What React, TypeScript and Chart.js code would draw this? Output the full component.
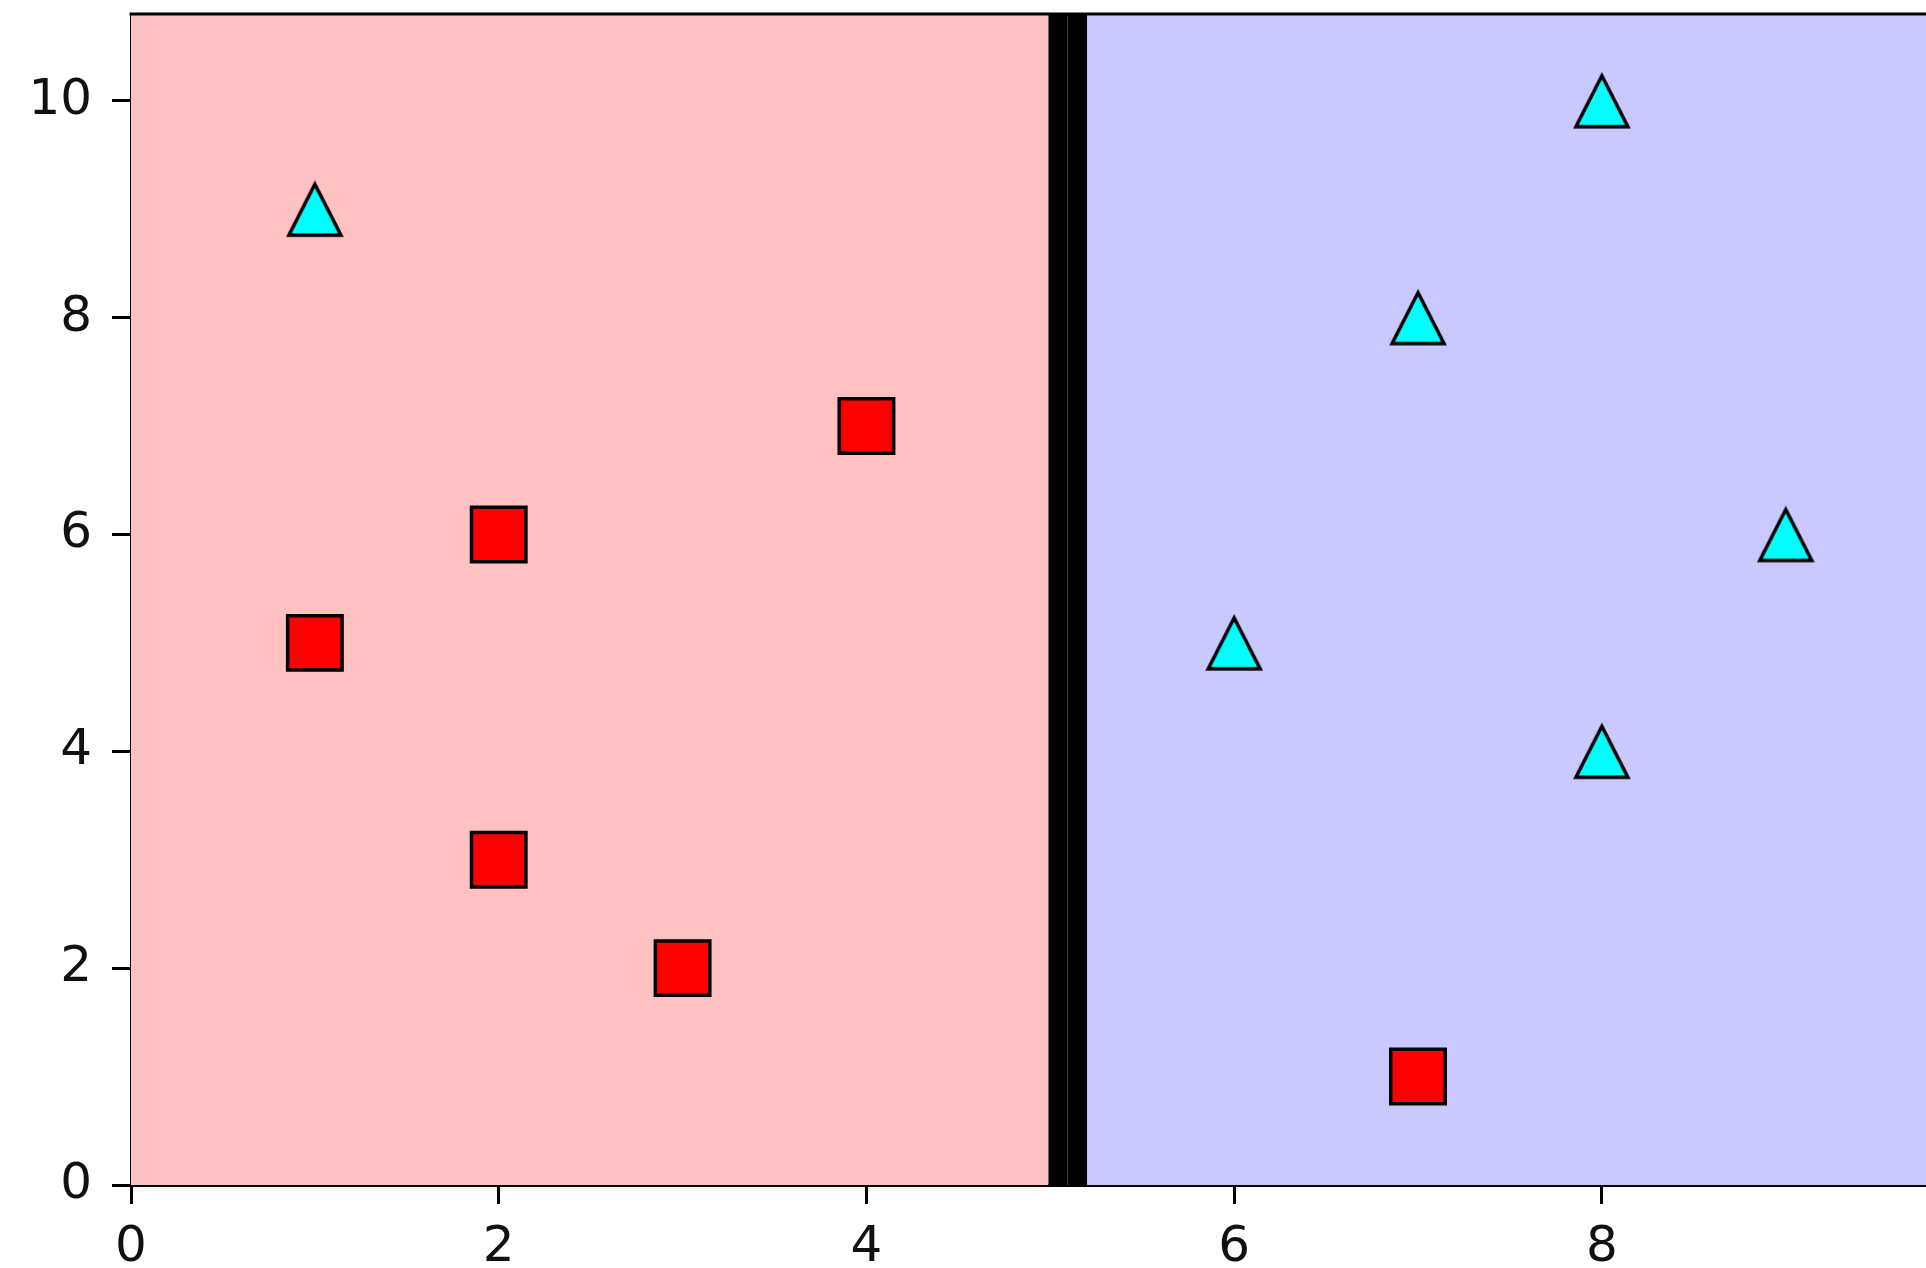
import React, { useEffect, useRef } from "react";
import { Chart, registerables } from "chart.js";

Chart.register(...registerables);

const squareX = [1, 2, 2, 3, 4, 7];
const squareY = [5, 6, 3, 2, 7, 1];
const triangleX = [1, 8, 7, 9, 6, 8];
const triangleY = [9, 10, 8, 6, 5, 4];

const xRange = [0, 9.763];
const yRange = [0, 10.8];
const tickStep = 2;

const redSpan = [0, 4.99];
const blackSpan = [4.99, 5.2];
const blueSpan = [5.2, 9.763];

function makeTriangle(): HTMLCanvasElement {
  const S = 58;
  const c = document.createElement("canvas");
  c.width = S;
  c.height = S;
  const ctx = c.getContext("2d")!;
  ctx.beginPath();
  ctx.moveTo(S / 2, 4);
  ctx.lineTo(S - 3, S - 3);
  ctx.lineTo(3, S - 3);
  ctx.closePath();
  ctx.fillStyle = "#00ffff";
  ctx.fill();
  ctx.lineWidth = 3.5;
  ctx.lineJoin = "miter";
  ctx.strokeStyle = "#000";
  ctx.stroke();
  return c;
}

const backgroundPlugin = {
  id: "bgSpans",
  beforeDatasetsDraw(chart: any) {
    const { ctx, chartArea, scales } = chart;
    const xs = scales.x;
    const top = chartArea.top;
    const bottom = chartArea.bottom;
    const span = (a: number, b: number, color: string) => {
      const x0 = xs.getPixelForValue(a);
      const x1 = xs.getPixelForValue(b);
      ctx.fillStyle = color;
      ctx.fillRect(x0, top, x1 - x0, bottom - top);
    };
    ctx.save();
    span(redSpan[0], redSpan[1], "#ffc1c1");
    span(blueSpan[0], blueSpan[1] + 1, "#c9c9ff");
    span(blackSpan[0], blackSpan[1], "#000000");
    const gx = xs.getPixelForValue(blackSpan[0] * 0.53 + blackSpan[1] * 0.47);
    ctx.fillStyle = "#3a3a55";
    ctx.fillRect(Math.round(gx), top, 1, bottom - top);
    ctx.strokeStyle = "#000";
    ctx.lineWidth = 3;
    ctx.beginPath();
    ctx.moveTo(chartArea.left - 1.5, top);
    ctx.lineTo(chartArea.right + 5, top);
    ctx.stroke();
    ctx.restore();
  },
};

export default function App() {
  const ref = useRef<HTMLCanvasElement>(null);
  useEffect(() => {
    document.body.style.margin = "0";
    const tri = makeTriangle();
    const chart = new Chart(ref.current!, {
      type: "scatter",
      data: {
        datasets: [
          {
            data: squareX.map((x, i) => ({ x, y: squareY[i] })),
            pointStyle: "rect",
            pointRadius: 38.5,
            pointHoverRadius: 38.5,
            backgroundColor: "#ff0000",
            borderColor: "#000000",
            pointBorderWidth: 3.5,
          },
          {
            data: triangleX.map((x, i) => ({ x, y: triangleY[i] })),
            pointStyle: tri as any,
            pointRadius: 29,
            pointHoverRadius: 29,
            backgroundColor: "#00ffff",
            borderColor: "#000000",
          },
        ],
      },
      options: {
        responsive: false,
        animation: false,
        devicePixelRatio: 1,
        clip: false as any,
        layout: { padding: { top: 14, left: 0, right: 0, bottom: 0 }, autoPadding: false },
        plugins: { legend: { display: false }, tooltip: { enabled: false } },
        scales: {
          x: {
            type: "linear",
            min: xRange[0],
            max: xRange[1],
            ticks: {
              stepSize: tickStep,
              includeBounds: false,
              color: "#111",
              font: { family: "DejaVu Sans", size: 50 },
              padding: 14,
              maxRotation: 0,
            },
            grid: {
              drawOnChartArea: false,
              tickLength: 19,
              tickWidth: 3,
              tickColor: "#000",
            },
            border: { color: "#000", width: 3 },
            afterFit: (s: any) => {
              s.height = 83;
              s.paddingLeft = 0;
              s.paddingRight = 0;
            },
          },
          y: {
            type: "linear",
            min: yRange[0],
            max: yRange[1],
            ticks: {
              stepSize: tickStep,
              includeBounds: false,
              color: "#111",
              font: { family: "DejaVu Sans", size: 50 },
              padding: 20,
            },
            grid: {
              drawOnChartArea: false,
              tickLength: 19,
              tickWidth: 3,
              tickColor: "#000",
            },
            border: { color: "#000", width: 3 },
            afterFit: (s: any) => {
              s.width = 131;
              s.paddingTop = 14;
              s.paddingBottom = 0;
            },
          },
        },
      },
      plugins: [backgroundPlugin],
    });
    return () => chart.destroy();
  }, []);
  return (
    <canvas
      ref={ref}
      width={1926}
      height={1268}
      style={{ display: "block", width: 1926, height: 1268 }}
    />
  );
}
